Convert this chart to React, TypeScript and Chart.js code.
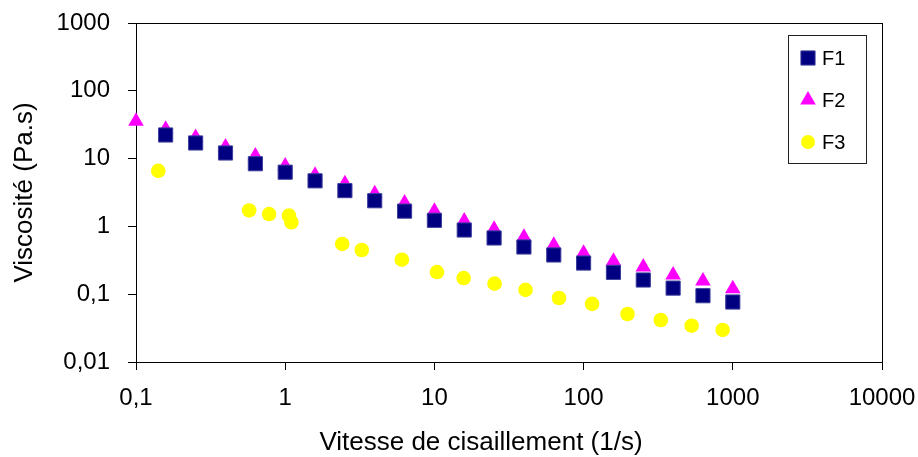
import React, { useEffect, useRef } from 'react';
import { Chart, registerables } from 'chart.js';
import { drawPoint } from 'chart.js/helpers';

Chart.register(...registerables);

const FONT = '"Liberation Sans", Arial, Helvetica, sans-serif';

// Shear rates (1/s) for F1
const f1Rates = [0.158, 0.251, 0.398, 0.631, 1, 1.585, 2.512, 3.981, 6.31, 10, 15.85, 25.12, 39.81, 63.1, 100, 158.5, 251.2, 398.1, 631, 1000];
// Viscosity (Pa.s) for F1
const f1Visc = [22.3, 17.0, 12.1, 8.4, 6.3, 4.7, 3.37, 2.39, 1.68, 1.23, 0.885, 0.675, 0.497, 0.379, 0.288, 0.21, 0.162, 0.123, 0.095, 0.0767];

// F2
const f2Rates = [0.1, 0.158, 0.251, 0.398, 0.631, 1, 1.585, 2.512, 3.981, 6.31, 10, 15.85, 25.12, 39.81, 63.1, 100, 158.5, 251.2, 398.1, 631, 1000];
const f2Visc = [35.5, 27.0, 20.4, 14.8, 10.9, 7.78, 5.67, 4.26, 3.03, 2.22, 1.67, 1.2, 0.906, 0.69, 0.526, 0.401, 0.305, 0.252, 0.192, 0.157, 0.1205];

// F3
const f3Rates = [0.141, 0.573, 0.78, 1.06, 1.1, 2.41, 3.26, 6.05, 10.4, 15.7, 25.3, 40.8, 68.4, 114, 197, 329, 530, 855];
const f3Visc = [6.6, 1.72, 1.52, 1.44, 1.15, 0.551, 0.449, 0.323, 0.212, 0.173, 0.143, 0.116, 0.088, 0.072, 0.051, 0.0416, 0.0343, 0.0297];

const seriesLabels = ['F1', 'F2', 'F3'];
const xTicks = [0.1, 1, 10, 100, 1000, 10000];
const yTicks = [0.01, 0.1, 1, 10, 100, 1000];

const xTitle = 'Vitesse de cisaillement (1/s)';
const yTitle = 'Viscosité (Pa.s)';

const toPoints = (xs: number[], ys: number[]) => xs.map((x, i) => ({ x, y: ys[i] }));
const fmt = (v: number) => String(v).replace('.', ',');

const legendRadius = [10, 9, 7];

const frameAndLegend = {
  id: 'frameAndLegend',
  beforeDatasetsDraw(chart: any) {
    const { ctx, chartArea } = chart;
    ctx.save();
    ctx.strokeStyle = '#000';
    ctx.lineWidth = 1;
    ctx.strokeRect(
      Math.round(chartArea.left) + 0.5,
      Math.round(chartArea.top) + 0.5,
      Math.round(chartArea.right - chartArea.left),
      Math.round(chartArea.bottom - chartArea.top)
    );
    // x axis title
    ctx.fillStyle = '#000';
    ctx.font = `26px ${FONT}`;
    ctx.textAlign = 'center';
    ctx.textBaseline = 'middle';
    ctx.fillText(xTitle, (chartArea.left + chartArea.right) / 2 - 28, chartArea.bottom + 80.5);
    ctx.restore();
  },
  afterDatasetsDraw(chart: any) {
    const { ctx, chartArea } = chart;
    const w = 78;
    const h = 128;
    const x0 = Math.round(chartArea.right - 16 - w);
    const y0 = Math.round(chartArea.top + 12);
    ctx.save();
    ctx.fillStyle = '#fff';
    ctx.fillRect(x0, y0, w, h);
    ctx.strokeStyle = '#222';
    ctx.lineWidth = 1;
    ctx.strokeRect(x0 + 0.5, y0 + 0.5, w, h);
    chart.data.datasets.forEach((ds: any, i: number) => {
      const cy = y0 + 23 + i * 42;
      ctx.fillStyle = ds.pointBackgroundColor;
      ctx.strokeStyle = ds.pointBorderColor;
      ctx.lineWidth = ds.pointBorderWidth;
      drawPoint(ctx, { pointStyle: ds.pointStyle, radius: legendRadius[i], borderWidth: ds.pointBorderWidth, rotation: 0 } as any, x0 + 20, cy);
      ctx.fillStyle = '#000';
      ctx.font = `20px ${FONT}`;
      ctx.textBaseline = 'middle';
      ctx.textAlign = 'left';
      ctx.fillText(ds.label, x0 + 34, cy + 1);
    });
    ctx.restore();
  },
};

export default function App() {
  const ref = useRef<HTMLCanvasElement | null>(null);

  useEffect(() => {
    if (!ref.current) return;
    const chart = new Chart(ref.current, {
      type: 'scatter',
      data: {
        datasets: [
          {
            label: seriesLabels[0],
            data: toPoints(f1Rates, f1Visc),
            pointStyle: 'rect',
            pointRadius: 10,
            pointBackgroundColor: '#000080',
            pointBorderColor: '#3c3c9c',
            pointBorderWidth: 1,
            showLine: false,
            clip: false,
          },
          {
            label: seriesLabels[1],
            data: toPoints(f2Rates, f2Visc),
            pointStyle: 'triangle',
            pointRadius: 9,
            pointBackgroundColor: '#ff00ff',
            pointBorderColor: '#ff00ff',
            pointBorderWidth: 0,
            showLine: false,
            clip: false,
          },
          {
            label: seriesLabels[2],
            data: toPoints(f3Rates, f3Visc),
            pointStyle: 'circle',
            pointRadius: 7.3,
            pointBackgroundColor: '#ffff00',
            pointBorderColor: '#ffff00',
            pointBorderWidth: 0,
            showLine: false,
            clip: false,
          },
        ] as any,
      },
      options: {
        animation: false,
        responsive: false,
        layout: { padding: { top: 23, right: 36, left: 0, bottom: 0 } },
        plugins: { legend: { display: false }, tooltip: { enabled: false } },
        scales: {
          x: {
            type: 'logarithmic',
            position: 'bottom',
            min: 0.1,
            max: 10000,
            afterBuildTicks: (s: any) => { s.ticks = xTicks.map((v) => ({ value: v })); },
            afterFit: (s: any) => { s.height = 95; s.paddingLeft = 0; s.paddingRight = 0; s.paddingTop = 0; s.paddingBottom = 0; },
            grid: { display: true, drawOnChartArea: false, drawTicks: true, tickLength: 8, color: '#000', lineWidth: 1 },
            border: { display: true, color: '#000', width: 1 },
            ticks: {
              color: '#000',
              font: { family: FONT, size: 24 },
              padding: 14,
              maxRotation: 0,
              autoSkip: false,
              callback: (v: any) => fmt(Number(v)),
            },
            title: { display: false },
          },
          y: {
            type: 'logarithmic',
            position: 'left',
            min: 0.01,
            max: 1000,
            afterBuildTicks: (s: any) => { s.ticks = yTicks.map((v) => ({ value: v })); },
            afterFit: (s: any) => { s.width = 136; s.paddingLeft = 0; s.paddingRight = 0; s.paddingTop = 0; s.paddingBottom = 0; },
            grid: { display: true, drawOnChartArea: false, drawTicks: true, tickLength: 8, color: '#000', lineWidth: 1 },
            border: { display: true, color: '#000', width: 1 },
            ticks: {
              color: '#000',
              font: { family: FONT, size: 24 },
              padding: 18,
              autoSkip: false,
              callback: (v: any) => fmt(Number(v)),
            },
            title: {
              display: true,
              text: yTitle,
              color: '#000',
              font: { family: FONT, size: 26 },
              padding: { top: 9, bottom: 0 },
            },
          },
        },
      } as any,
      plugins: [frameAndLegend],
    });
    return () => chart.destroy();
  }, []);

  return (
    <div style={{ position: 'absolute', left: 0, top: 0, width: 918, height: 457, background: '#fff' }}>
      <canvas ref={ref} width={918} height={457} />
    </div>
  );
}
